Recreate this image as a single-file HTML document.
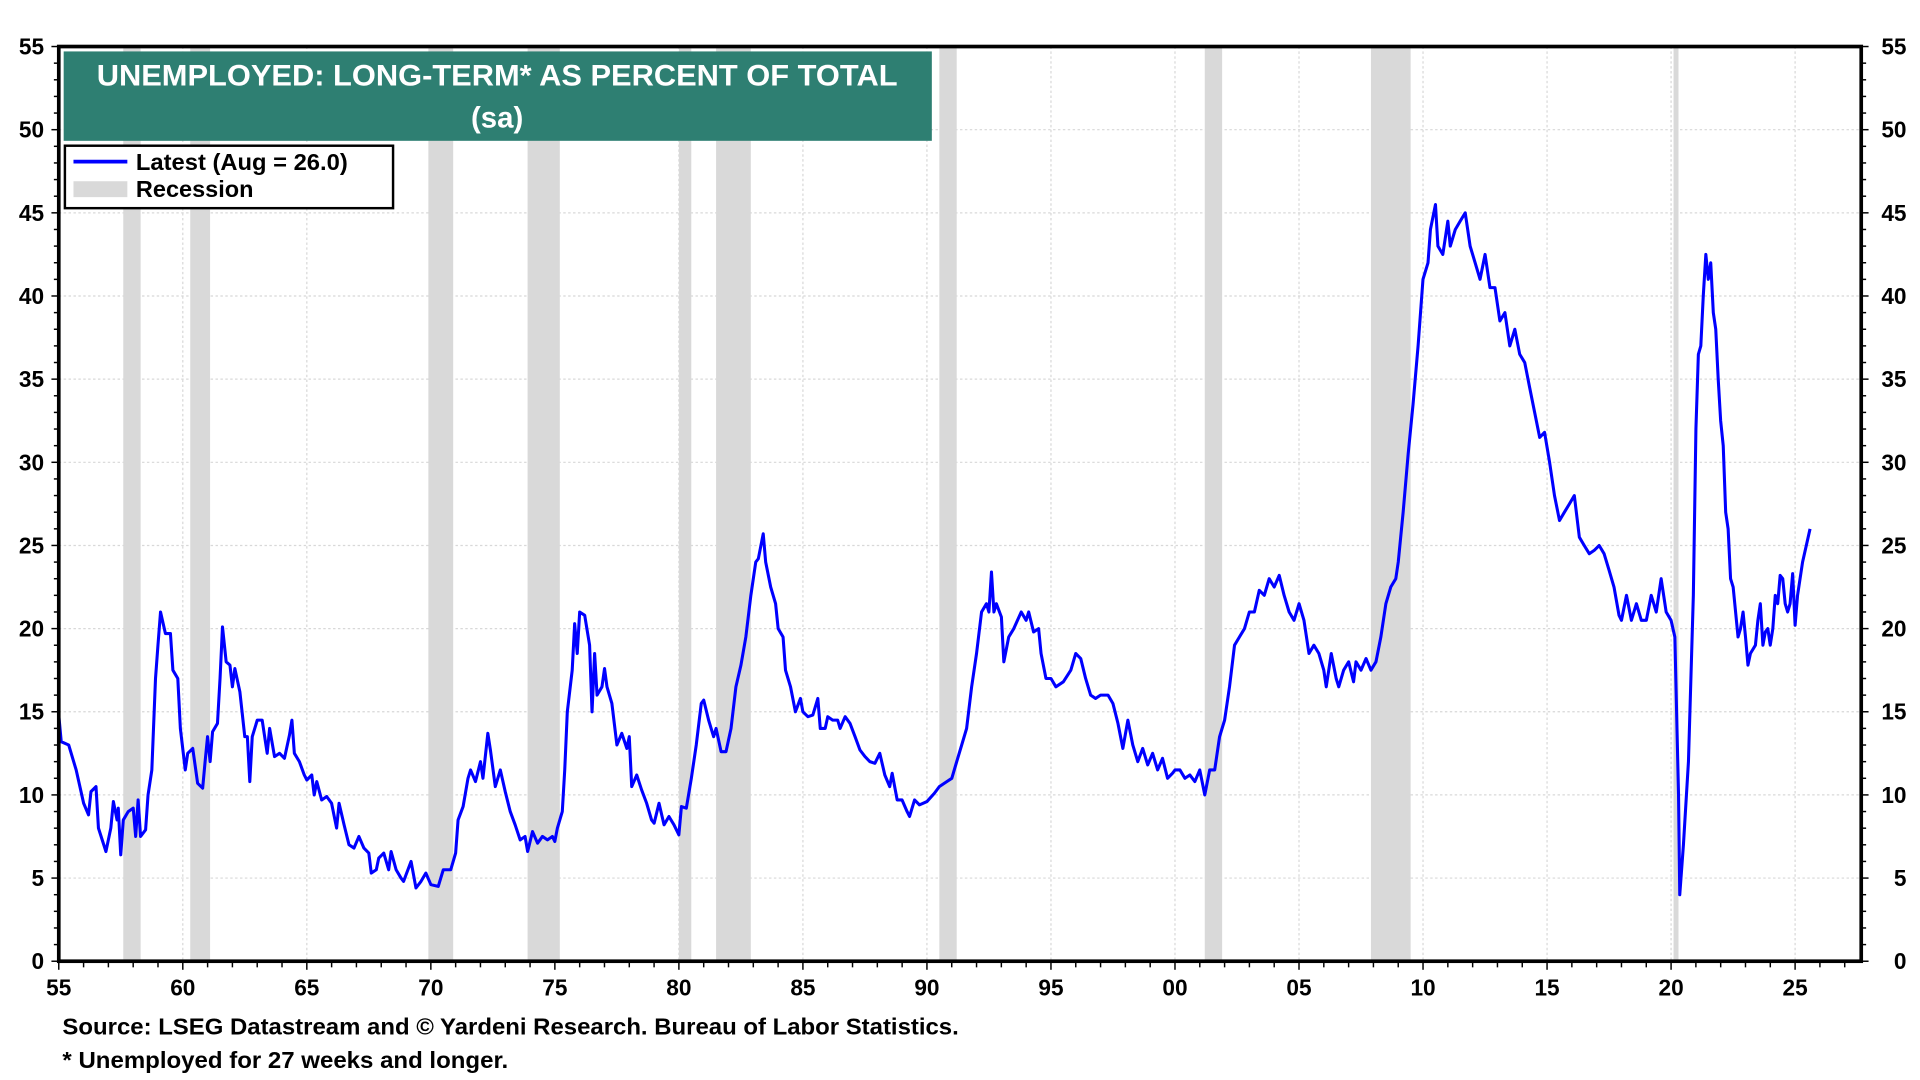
<!DOCTYPE html>
<html><head><meta charset="utf-8"><style>
html,body{margin:0;padding:0;background:#fff;}
svg{display:block;font-family:"Liberation Sans",Arial,sans-serif;font-weight:bold;}
</style></head><body>
<svg id="chart" width="1920" height="1080" viewBox="0 0 1568 882" xmlns="http://www.w3.org/2000/svg">
<g id="grid"></g>
<g id="rec"></g>
<g id="series"></g>
<g id="axes"></g>
<g>
<rect x="52" y="42" width="709" height="73" fill="#2e7f72"/>
<text x="79" y="70" fill="#fff" font-size="24" textLength="654" lengthAdjust="spacingAndGlyphs">UNEMPLOYED: LONG-TERM* AS PERCENT OF TOTAL</text>
<text x="406" y="104" text-anchor="middle" fill="#fff" font-size="24">(sa)</text>
</g>
<g>
<rect x="53" y="119" width="268" height="51" fill="#fff" stroke="#000" stroke-width="2"/>
<line x1="60" y1="132" x2="104" y2="132" stroke="#0000ff" stroke-width="3"/>
<text x="111" y="139" font-size="18.5" textLength="173" lengthAdjust="spacingAndGlyphs">Latest (Aug = 26.0)</text>
<rect x="60" y="148" width="44" height="13" fill="#d9d9d9"/>
<text x="111" y="161" font-size="18.5" textLength="96" lengthAdjust="spacingAndGlyphs">Recession</text>
</g>
<text x="51" y="845" font-size="18.5" textLength="732" lengthAdjust="spacingAndGlyphs">Source: LSEG Datastream and © Yardeni Research. Bureau of Labor Statistics.</text>
<text x="51" y="872" font-size="18.5" textLength="364" lengthAdjust="spacingAndGlyphs">* Unemployed for 27 weeks and longer.</text>
</svg>
<script>
const dates=[55.0,55.1,55.4,55.7,56.0,56.2,56.3,56.5,56.6,56.9,57.1,57.2,57.35,57.4,57.5,57.6,57.8,58.0,58.1,58.2,58.3,58.5,58.6,58.75,58.9,59.0,59.1,59.3,59.5,59.6,59.8,59.9,60.1,60.2,60.4,60.6,60.8,60.9,61.0,61.1,61.2,61.4,61.5,61.6,61.75,61.9,62.0,62.1,62.3,62.5,62.6,62.7,62.8,63.0,63.2,63.4,63.5,63.7,63.9,64.1,64.3,64.4,64.5,64.7,64.9,65.0,65.2,65.3,65.4,65.6,65.8,66.0,66.2,66.3,66.5,66.7,66.9,67.1,67.3,67.5,67.6,67.8,67.9,68.1,68.3,68.4,68.6,68.8,68.9,69.0,69.2,69.4,69.6,69.8,70.0,70.3,70.5,70.8,71.0,71.1,71.3,71.5,71.6,71.8,72.0,72.1,72.3,72.4,72.6,72.8,73.0,73.2,73.4,73.6,73.8,73.9,74.1,74.3,74.5,74.7,74.9,75.0,75.1,75.3,75.4,75.5,75.7,75.8,75.9,76.0,76.2,76.4,76.5,76.6,76.7,76.9,77.0,77.1,77.3,77.5,77.7,77.9,78.0,78.1,78.3,78.5,78.7,78.9,79.0,79.2,79.4,79.6,79.8,80.0,80.1,80.3,80.5,80.7,80.9,81.0,81.2,81.4,81.5,81.7,81.9,82.1,82.3,82.5,82.7,82.9,83.1,83.2,83.4,83.5,83.7,83.9,84.0,84.2,84.3,84.5,84.7,84.9,85.0,85.2,85.4,85.6,85.7,85.9,86.0,86.2,86.4,86.5,86.7,86.9,87.1,87.3,87.5,87.7,87.9,88.1,88.3,88.5,88.6,88.8,89.0,89.2,89.3,89.5,89.7,90.0,90.3,90.5,90.8,91.0,91.2,91.4,91.6,91.8,92.0,92.2,92.4,92.5,92.6,92.7,92.8,93.0,93.1,93.3,93.5,93.8,94.0,94.1,94.3,94.5,94.6,94.8,95.0,95.2,95.5,95.8,96.0,96.2,96.4,96.6,96.8,97.0,97.3,97.5,97.7,97.9,98.1,98.3,98.5,98.7,98.9,99.1,99.3,99.5,99.7,99.9,100.0,100.2,100.4,100.6,100.8,101.0,101.2,101.4,101.6,101.8,102.0,102.2,102.4,102.6,102.8,103.0,103.2,103.4,103.6,103.8,104.0,104.2,104.4,104.6,104.8,105.0,105.2,105.4,105.6,105.8,106.0,106.1,106.3,106.5,106.6,106.8,107.0,107.2,107.3,107.5,107.7,107.9,108.1,108.3,108.5,108.7,108.9,109.0,109.2,109.4,109.6,109.8,110.0,110.2,110.3,110.5,110.6,110.8,111.0,111.1,111.3,111.5,111.7,111.9,112.1,112.3,112.5,112.7,112.9,113.1,113.3,113.5,113.7,113.9,114.1,114.3,114.5,114.7,114.9,115.1,115.3,115.5,115.7,115.9,116.1,116.3,116.5,116.7,116.9,117.1,117.3,117.5,117.7,117.9,118.0,118.2,118.4,118.6,118.8,119.0,119.2,119.4,119.6,119.8,120.0,120.15,120.3,120.35,120.5,120.7,120.9,121.0,121.1,121.2,121.3,121.4,121.5,121.6,121.7,121.8,121.9,122.0,122.1,122.2,122.3,122.4,122.5,122.6,122.7,122.8,122.9,123.0,123.1,123.2,123.4,123.5,123.6,123.7,123.8,123.9,124.0,124.1,124.2,124.3,124.4,124.5,124.6,124.7,124.8,124.9,125.0,125.1,125.3,125.6];
const values=[14.8,13.2,13,11.5,9.5,8.8,10.2,10.5,8,6.6,8,9.6,8.5,9.2,6.4,8.5,9,9.2,7.5,9.7,7.5,7.9,10,11.5,17,19,21,19.7,19.7,17.5,17,14,11.5,12.5,12.8,10.7,10.4,12,13.5,12,13.8,14.3,17,20.1,18,17.8,16.5,17.6,16.2,13.5,13.5,10.8,13.5,14.5,14.5,12.5,14,12.3,12.5,12.2,13.6,14.5,12.5,12,11.2,10.9,11.2,10,10.8,9.7,9.9,9.5,8,9.5,8.2,7,6.8,7.5,6.8,6.5,5.3,5.5,6.2,6.5,5.5,6.6,5.5,5,4.8,5.2,6,4.4,4.8,5.3,4.6,4.5,5.5,5.5,6.5,8.5,9.3,11,11.5,10.8,12,11,13.7,12.7,10.5,11.5,10.2,9,8.2,7.3,7.5,6.6,7.8,7.1,7.5,7.3,7.5,7.2,8,9,11.5,15,17.5,20.3,18.5,21,20.8,19,15,18.5,16,16.5,17.6,16.5,15.5,13,13.7,12.8,13.5,10.5,11.2,10.3,9.5,8.5,8.3,9.5,8.2,8.7,8.2,7.6,9.3,9.2,11,13,15.5,15.7,14.5,13.5,14,12.6,12.6,14,16.5,17.8,19.5,22,24,24.2,25.7,24,22.5,21.5,20,19.5,17.5,16.5,15,15.8,15,14.7,14.8,15.8,14,14,14.7,14.5,14.5,14,14.7,14.3,13.5,12.7,12.3,12,11.9,12.5,11.2,10.5,11.3,9.7,9.7,9,8.7,9.7,9.4,9.6,10.1,10.5,10.8,11,12,13,14,16.5,18.5,21,21.5,21,23.4,21,21.5,20.7,18,19.5,20,21,20.5,21,19.8,20,18.5,17,17,16.5,16.8,17.5,18.5,18.2,17,16,15.8,16,16,15.5,14.3,12.8,14.5,13,12,12.8,11.8,12.5,11.5,12.2,11,11.3,11.5,11.5,11,11.2,10.8,11.5,10,11.5,11.5,13.5,14.5,16.5,19,19.5,20,21,21,22.3,22,23,22.5,23.2,22,21,20.5,21.5,20.5,18.5,19,18.5,17.5,16.5,18.5,17,16.5,17.5,18,16.8,18,17.5,18.2,17.5,18,19.5,21.5,22.5,23,24,27,30.5,33.5,37,41,42,44,45.5,43,42.5,44.5,43,44,44.5,45,43,42,41,42.5,40.5,40.5,38.5,39,37,38,36.5,36,34.5,33,31.5,31.8,30,28,26.5,27,27.5,28,25.5,25,24.5,24.7,25,24.5,23.5,22.5,20.8,20.5,22,20.5,21.5,20.5,20.5,22,21,23,21,20.5,19.5,10,4,7,12,22,32,36.5,37,40,42.5,41,42,39,38,35,32.5,31,27,26,23,22.5,21,19.5,20,21,19.5,17.8,18.5,19,20.5,21.5,19,19.8,20,19,20,22,21.5,23.2,23,21.5,21,21.5,23.3,20.2,22,24,26];
const recStart=[57.6,60.3,69.9,73.9,80.0,81.5,90.5,101.2,107.9,120.1];
const recEnd=[58.3,61.1,70.9,75.2,80.5,82.9,91.2,101.9,109.5,120.3];
const yTicks=[0,5,10,15,20,25,30,35,40,45,50,55];
const xTickYears=[55,60,65,70,75,80,85,90,95,100,105,110,115,120,125];
const xTickLabels=["55","60","65","70","75","80","85","90","95","00","05","10","15","20","25"];
const NS="http://www.w3.org/2000/svg";
const L=48,R=1520,T=38,B=785,X0=55;
const xs=d=>L+(d-X0)*(1466-48)/70;
const ys=v=>B-(v/55)*(B-T);
function mk(tag,attrs,parent){const e=document.createElementNS(NS,tag);for(const k in attrs)e.setAttribute(k,attrs[k]);parent.appendChild(e);return e;}
const grid=document.getElementById('grid'),rec=document.getElementById('rec'),ser=document.getElementById('series'),ax=document.getElementById('axes');
yTicks.forEach(v=>{if(v===0||v===55)return;const l=mk('line',{x1:L,x2:R,y1:ys(v),y2:ys(v),stroke:'#d8d8d8','stroke-width':1,'stroke-dasharray':'2,2'},grid);

});
xTickYears.forEach(d=>{if(d===55)return;const l=mk('line',{x1:xs(d),x2:xs(d),y1:T,y2:B,stroke:'#d8d8d8','stroke-width':1,'stroke-dasharray':'2,2'},grid);

});
recStart.forEach((s,i)=>{const r=mk('rect',{x:xs(s),y:T,width:xs(recEnd[i])-xs(s),height:B-T,fill:'#d9d9d9'},rec);

});
let d='';dates.forEach((t,i)=>{d+=(i?'L':'M')+xs(t).toFixed(1)+','+ys(values[i]).toFixed(1);});
const p=mk('path',{d:d,fill:'none',stroke:'#0000ff','stroke-width':2.5,'stroke-linejoin':'round'},ser);


mk('rect',{x:L,y:T,width:R-L,height:B-T,fill:'none',stroke:'#000','stroke-width':3},ax);
for(let v=0;v<=55;v++){const big=v%5===0;mk('line',{x1:L-(big?6:4),x2:L,y1:ys(v),y2:ys(v),stroke:'#000','stroke-width':1.2},ax);mk('line',{x1:R,x2:R+(big?6:4),y1:ys(v),y2:ys(v),stroke:'#000','stroke-width':1.2},ax);}
for(let y=55;y<=127;y++){mk('line',{x1:xs(y),x2:xs(y),y1:B,y2:B+(y%5===0?7:5),stroke:'#000','stroke-width':1.2},ax);}
yTicks.forEach(v=>{const t=mk('text',{x:36,y:ys(v)+6.5,'text-anchor':'end','font-size':18.5},ax);t.textContent=v;


const t2=mk('text',{x:1557,y:ys(v)+6.5,'text-anchor':'end','font-size':18.5},ax);t2.textContent=v;

});
xTickYears.forEach((y,i)=>{const t=mk('text',{x:xs(y),y:813,'text-anchor':'middle','font-size':18.5},ax);t.textContent=xTickLabels[i];

});
</script>
</body></html>
